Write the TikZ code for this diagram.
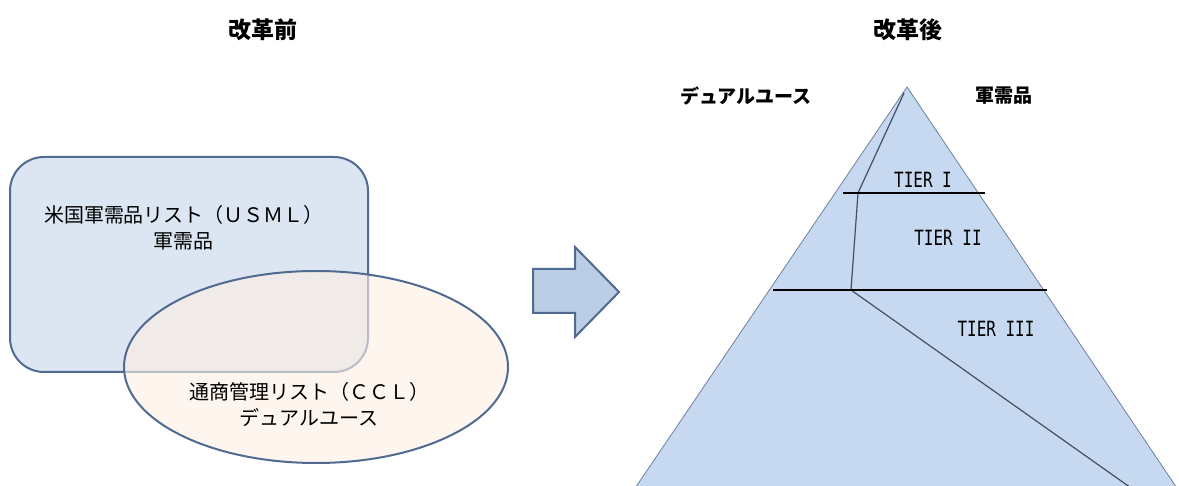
\documentclass[tikz,border=0pt]{standalone}
\usepackage{fontspec}
\usetikzlibrary{shapes.geometric}
\newfontfamily\jp{Noto Sans CJK JP}
\newfontfamily\tierfont{DejaVu Sans Mono}
\definecolor{boxfill}{RGB}{220,230,242}
\definecolor{boxline}{RGB}{80,106,145}
\definecolor{ovalfill}{RGB}{253,239,229}
\definecolor{arrowfill}{RGB}{187,206,230}
\definecolor{pyrfill}{RGB}{198,217,240}
\definecolor{pyrline}{RGB}{110,128,155}
\definecolor{splitline}{RGB}{65,80,100}
\tikzset{
  title/.style={font=\jp\bfseries\fontsize{23}{27}\selectfont, inner sep=0},
  jplabel/.style={font=\jp\fontsize{20}{26}\selectfont, align=center, inner sep=0},
  toplabel/.style={font=\jp\bfseries\fontsize{19}{23}\selectfont, inner sep=0},
  tierlabel/.style={font=\tierfont\fontsize{21}{24}\selectfont, xscale=0.76, inner sep=0},
  tierrule/.style={line width=2.6pt, black},
}
\begin{document}
\begin{tikzpicture}[x=1pt, y=-1pt]
\useasboundingbox (0,0) rectangle (1179,486);
\clip (0,0) rectangle (1179,486);

% headings
\node[title] (before) at (263,30) {改革前};
\node[title] (after) at (908,30) {改革後};

% USML box and CCL oval
\node[draw=boxline, line width=2pt, fill=boxfill, rounded corners=34pt,
      minimum width=358pt, minimum height=215pt, inner sep=0] (usml) at (189,264.5) {};
\node[ellipse, fill=ovalfill, fill opacity=0.62, minimum width=384pt,
      minimum height=192pt, inner sep=0] (ccl) at (316,367) {};
\node[ellipse, draw=boxline, line width=2pt, minimum width=384pt,
      minimum height=192pt, inner sep=0] (cclrim) at (316,367) {};
\node[jplabel] (usmltext) at (184,228) {米国軍需品リスト（ＵＳＭＬ）\\軍需品};
\node[jplabel] (ccltext) at (309,405) {通商管理リスト（ＣＣＬ）\\デュアルユース};

% block arrow
\draw[boxline, line width=2pt, fill=arrowfill, line join=miter]
  (533,269) -- (575,269) -- (575,247) -- (619,292) -- (575,337) -- (575,313) -- (533,313) -- cycle;

% pyramid
\coordinate (apex) at (907,87);
\draw[pyrline, line width=0.8pt, fill=pyrfill]
  (apex) -- (1185,500) -- (627,500) -- cycle;
\coordinate (s0) at (904,93);
\coordinate (s1) at (858,193);
\coordinate (s2) at (851,290);
\coordinate (s3) at (1141,495);
\draw[splitline, line width=1.2pt] (s0) -- (s1) -- (s2) -- (s3);
\coordinate (t1a) at (843,193);
\coordinate (t1b) at (985,193);
\coordinate (t2a) at (773,290);
\coordinate (t2b) at (1047,290);
\draw[tierrule] (t1a) -- (t1b);
\draw[tierrule] (t2a) -- (t2b);

\node[tierlabel] (tier1) at (923,180) {TIER I};
\node[tierlabel] (tier2) at (948,238) {TIER II};
\node[tierlabel] (tier3) at (996,329) {TIER III};

\node[toplabel] (dual) at (746,96) {デュアルユース};
\node[toplabel] (mil) at (1004,96) {軍需品};
\end{tikzpicture}
\end{document}
